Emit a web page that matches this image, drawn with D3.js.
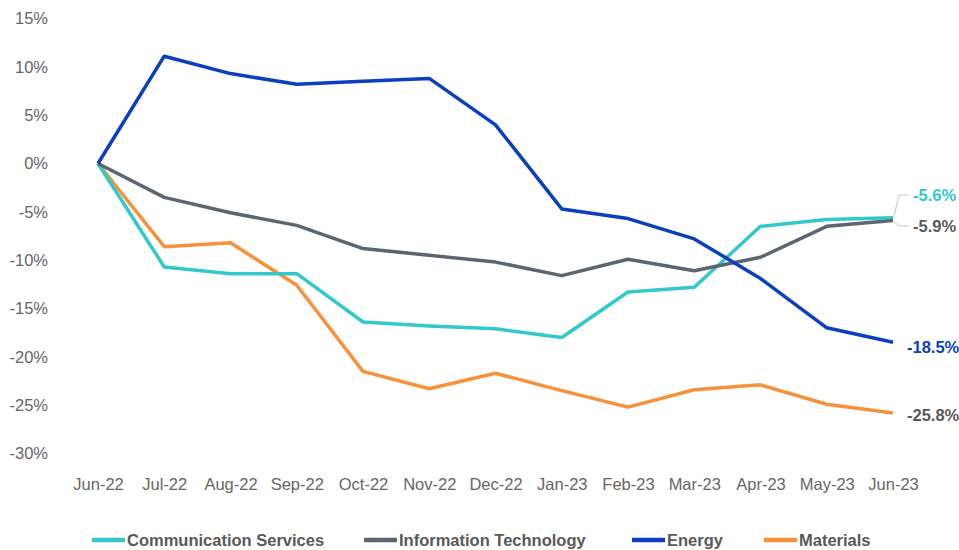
<!DOCTYPE html>
<html>
<head>
<meta charset="utf-8">
<script src="https://cdn.jsdelivr.net/npm/d3@7"></script>
<style>
  html, body { margin: 0; padding: 0; background: #fff; }
  svg { display: block; }
</style>
</head>
<body>
<svg id="chart" width="959" height="550"></svg>
<script>
const months = ["Jun-22","Jul-22","Aug-22","Sep-22","Oct-22","Nov-22","Dec-22","Jan-23","Feb-23","Mar-23","Apr-23","May-23","Jun-23"];
const commServices = [0, -10.7, -11.4, -11.4, -16.4, -16.8, -17.1, -18.0, -13.3, -12.8, -6.5, -5.8, -5.6];
const infoTech     = [0, -3.5, -5.1, -6.4, -8.8, -9.5, -10.2, -11.6, -9.9, -11.1, -9.7, -6.5, -5.9];
const energy       = [0, 11.1, 9.3, 8.2, 8.5, 8.8, 4.0, -4.7, -5.7, -7.8, -11.9, -17.0, -18.5];
const materials    = [0, -8.6, -8.2, -12.6, -21.5, -23.3, -21.7, -23.5, -25.2, -23.4, -22.9, -24.9, -25.8];
const yTicks = [15, 10, 5, 0, -5, -10, -15, -20, -25, -30];
const endLabels = ["-5.6%", "-5.9%", "-18.5%", "-25.8%"];

const seriesNames = ["Communication Services", "Information Technology", "Energy", "Materials"];
const seriesColors = ["#33c9cc", "#5c6670", "#0a3fc0", "#f7913a"];
const labelColors = ["#33c9cc", "#595959", "#0a3fc0", "#595959"];
const seriesValues = [commServices, infoTech, energy, materials];

const svg = d3.select("#chart");
const FONT = "'Liberation Sans', Arial, sans-serif";

const x = d3.scalePoint().domain(months).range([98, 893]);
const y = d3.scaleLinear().domain([-30, 15]).range([453.5, 18.5]);

// Y axis labels
const yAxis = d3.axisLeft(y).tickValues(yTicks).tickFormat(d => d + "%").tickSize(0).tickPadding(0);
const gy = svg.append("g").attr("transform", "translate(48,0)").call(yAxis);
gy.select(".domain").remove();
gy.selectAll("text").attr("font-family", FONT).attr("font-size", 16.5).attr("fill", "#666");

// X axis labels
const xAxis = d3.axisBottom(x).tickSize(0).tickPadding(0);
const gx = svg.append("g").attr("transform", "translate(0,478)").call(xAxis);
gx.select(".domain").remove();
gx.selectAll("text").attr("font-family", FONT).attr("font-size", 16.5).attr("fill", "#666");

// Lines
const line = d3.line().x((d, i) => x(months[i])).y(d => y(d));
const order = [3, 0, 1, 2];
order.forEach(k => {
  svg.append("path")
    .datum(seriesValues[k])
    .attr("d", line)
    .attr("fill", "none")
    .attr("stroke", seriesColors[k])
    .attr("stroke-width", 3.5)
    .attr("stroke-linejoin", "round");
});

// End labels with leader lines
const lastX = x(months[months.length - 1]);
const labelY = [195, 226, 347, 415];
const labelX = [913, 913, 907, 907];
const leaderG = svg.append("g").attr("fill", "none").attr("stroke", "#c4c4c4").attr("stroke-width", 1);
leaderG.append("path").attr("d", d3.line()([[lastX + 1, y(commServices[12]) - 1], [lastX + 6, labelY[0]], [lastX + 16, labelY[0]]]));
leaderG.append("path").attr("d", d3.line()([[lastX + 1, y(infoTech[12]) + 1], [lastX + 6, labelY[1]], [lastX + 16, labelY[1]]]));

endLabels.forEach((t, k) => {
  svg.append("text")
    .attr("x", labelX[k])
    .attr("y", labelY[k])
    .attr("dy", "0.35em")
    .attr("font-family", FONT)
    .attr("font-weight", "bold")
    .attr("font-size", 16.5)
    .attr("fill", labelColors[k])
    .text(t);
});

// Legend
const legendX = [92, 364, 632, 764];
const lg = svg.append("g");
seriesNames.forEach((n, k) => {
  lg.append("line")
    .attr("x1", legendX[k]).attr("x2", legendX[k] + 33)
    .attr("y1", 540).attr("y2", 540)
    .attr("stroke", seriesColors[k]).attr("stroke-width", 4.5);
  lg.append("text")
    .attr("x", legendX[k] + 35).attr("y", 540).attr("dy", "0.35em")
    .attr("font-family", FONT).attr("font-weight", "bold").attr("font-size", 16.5)
    .attr("fill", "#595959")
    .text(n);
});
</script>
</body>
</html>
